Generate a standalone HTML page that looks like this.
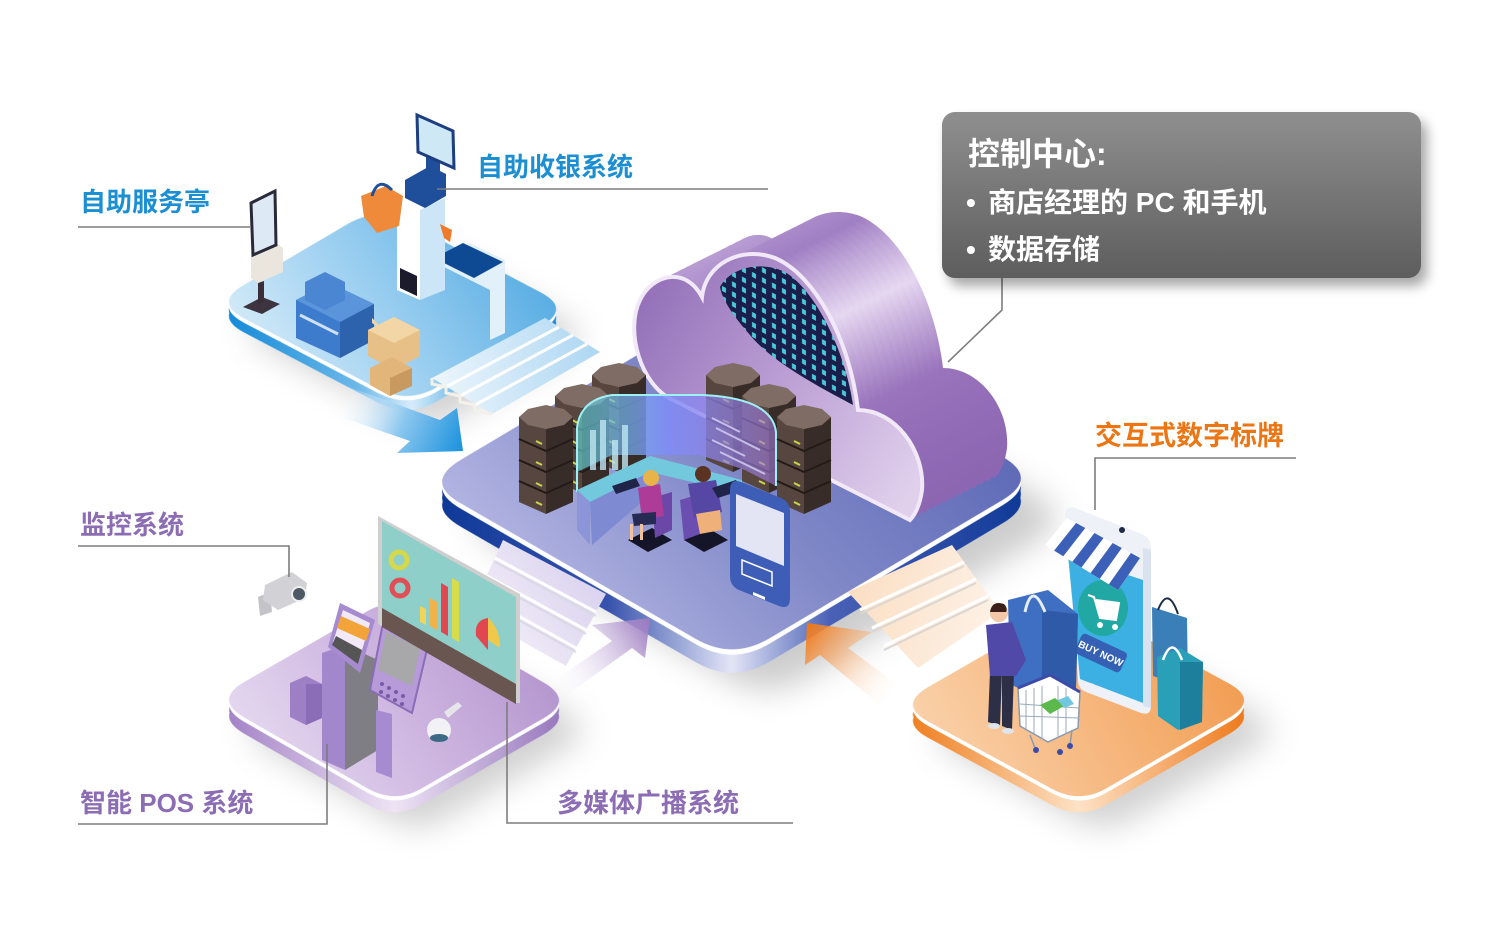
<!DOCTYPE html>
<html><head><meta charset="utf-8">
<style>
html,body{margin:0;padding:0;background:#fff;}
svg{display:block;}
text{font-family:"Liberation Sans","Noto Sans CJK SC",sans-serif;font-weight:bold;}
</style></head>
<body>
<svg width="1500" height="932" viewBox="0 0 1500 932" xmlns="http://www.w3.org/2000/svg">
<defs>
  <filter id="blur" x="-30%" y="-30%" width="160%" height="160%"><feGaussianBlur stdDeviation="16"/></filter>
  <filter id="boxsh" x="-10%" y="-20%" width="130%" height="160%"><feGaussianBlur stdDeviation="6"/></filter>

  <path id="pB" d="M256 318 L378 382 Q407 397 434 381 L531 324 Q558 308 529 293 L407 229 Q378 214 351 230 L254 287 Q227 303 256 318 Z"/>
  <path id="pC" d="M476 502 L698 630 Q733 650 768 629 L987 499 Q1022 478 987 458 L765 330 Q730 310 695 331 L476 461 Q441 482 476 502 Z"/>
  <path id="pP" d="M255 716 L368 781 Q395 797 421 781 L534 716 Q560 700 533 684 L420 619 Q393 603 367 619 L254 684 Q228 700 255 716 Z"/>
  <path id="pO" d="M939 720 L1053 782 Q1080 797 1106 781 L1219 716 Q1245 700 1218 685 L1104 623 Q1077 608 1051 624 L938 689 Q912 705 939 720 Z"/>
  <path id="cloud" d="M673 400 C640 385 625 330 640 300 C652 275 685 265 702 297 C705 265 740 245 775 258 C815 275 850 340 858 410 C895 410 925 450 922 490 C920 505 915 515 910 520 Z"/>

  <linearGradient id="gBT" gradientUnits="userSpaceOnUse" x1="290" y1="390" x2="520" y2="230">
    <stop offset="0" stop-color="#d4ebf9"/><stop offset="0.5" stop-color="#93cbef"/><stop offset="1" stop-color="#4fa8e2"/></linearGradient>
  <linearGradient id="gBS" gradientUnits="userSpaceOnUse" x1="227" y1="0" x2="560" y2="0">
    <stop offset="0" stop-color="#0c86d6"/><stop offset="0.4" stop-color="#6db8ea"/><stop offset="0.55" stop-color="#d6ecfa"/><stop offset="0.75" stop-color="#3fa1e2"/><stop offset="1" stop-color="#0f84d4"/></linearGradient>

  <linearGradient id="gCT" gradientUnits="userSpaceOnUse" x1="600" y1="650" x2="900" y2="360">
    <stop offset="0" stop-color="#b4b6e3"/><stop offset="0.5" stop-color="#8189c8"/><stop offset="1" stop-color="#5f6bb8"/></linearGradient>
  <linearGradient id="gCS" gradientUnits="userSpaceOnUse" x1="441" y1="0" x2="1022" y2="0">
    <stop offset="0" stop-color="#0b3796"/><stop offset="0.3" stop-color="#3853ad"/><stop offset="0.5" stop-color="#e4e6f7"/><stop offset="0.66" stop-color="#4a61b6"/><stop offset="1" stop-color="#0b3796"/></linearGradient>

  <linearGradient id="gPT" gradientUnits="userSpaceOnUse" x1="280" y1="780" x2="520" y2="620">
    <stop offset="0" stop-color="#e6d9f0"/><stop offset="0.5" stop-color="#cdb5e0"/><stop offset="1" stop-color="#b293cd"/></linearGradient>
  <linearGradient id="gPS" gradientUnits="userSpaceOnUse" x1="228" y1="0" x2="560" y2="0">
    <stop offset="0" stop-color="#9e7bc2"/><stop offset="0.5" stop-color="#eee4f5"/><stop offset="1" stop-color="#9170b9"/></linearGradient>

  <linearGradient id="gOT" gradientUnits="userSpaceOnUse" x1="960" y1="790" x2="1220" y2="650">
    <stop offset="0" stop-color="#fad2ab"/><stop offset="0.5" stop-color="#f6b77e"/><stop offset="1" stop-color="#f29c50"/></linearGradient>
  <linearGradient id="gOS" gradientUnits="userSpaceOnUse" x1="912" y1="0" x2="1245" y2="0">
    <stop offset="0" stop-color="#ee7814"/><stop offset="0.5" stop-color="#fde2c6"/><stop offset="1" stop-color="#ed720e"/></linearGradient>

  <linearGradient id="gBox" x1="0" y1="0" x2="0" y2="1">
    <stop offset="0" stop-color="#8f8f8f"/><stop offset="1" stop-color="#5d5d5d"/></linearGradient>

  <linearGradient id="gCloud" gradientUnits="userSpaceOnUse" x1="650" y1="210" x2="1000" y2="470">
    <stop offset="0" stop-color="#c7afdd"/><stop offset="0.3" stop-color="#a07fc3"/><stop offset="0.48" stop-color="#e6d7f1"/><stop offset="0.65" stop-color="#9a75bd"/><stop offset="1" stop-color="#8760ad"/></linearGradient>
  <linearGradient id="gCloudF" gradientUnits="userSpaceOnUse" x1="640" y1="300" x2="920" y2="480">
    <stop offset="0" stop-color="#9471b9"/><stop offset="0.45" stop-color="#b89bd2"/><stop offset="1" stop-color="#e0d0ec"/></linearGradient>
  <pattern id="dots" width="10" height="10" patternUnits="userSpaceOnUse" patternTransform="skewY(28)">
    <rect width="10" height="10" fill="#1a1e4b"/>
    <rect x="2" y="2" width="4" height="5" fill="#48cbd8"/>
  </pattern>

  <linearGradient id="gStB" gradientUnits="userSpaceOnUse" x1="430" y1="380" x2="610" y2="360">
    <stop offset="0" stop-color="#eef6fc"/><stop offset="1" stop-color="#a9d5f2"/></linearGradient>
  <linearGradient id="gStP" gradientUnits="userSpaceOnUse" x1="480" y1="640" x2="600" y2="560">
    <stop offset="0" stop-color="#f4f0f9"/><stop offset="1" stop-color="#d8d0ee"/></linearGradient>
  <linearGradient id="gStO" gradientUnits="userSpaceOnUse" x1="850" y1="600" x2="990" y2="640">
    <stop offset="0" stop-color="#fbdfc4"/><stop offset="1" stop-color="#fdf1e6"/></linearGradient>

  <linearGradient id="aB" gradientUnits="userSpaceOnUse" x1="340" y1="395" x2="465" y2="450">
    <stop offset="0" stop-color="#ffffff" stop-opacity="0"/><stop offset="0.5" stop-color="#8cc7ef"/><stop offset="1" stop-color="#1690dc"/></linearGradient>
  <linearGradient id="aP" gradientUnits="userSpaceOnUse" x1="545" y1="680" x2="650" y2="618">
    <stop offset="0" stop-color="#ffffff" stop-opacity="0"/><stop offset="1" stop-color="#9a78c0"/></linearGradient>
  <linearGradient id="aO" gradientUnits="userSpaceOnUse" x1="900" y1="695" x2="806" y2="625">
    <stop offset="0" stop-color="#ffffff" stop-opacity="0"/><stop offset="1" stop-color="#ef7410"/></linearGradient>

  <linearGradient id="gGlass" x1="0" y1="0" x2="1" y2="0">
    <stop offset="0" stop-color="#63d6d6" stop-opacity="0.75"/><stop offset="0.45" stop-color="#7f8cf8"/><stop offset="1" stop-color="#a27ad8" stop-opacity="0.7"/></linearGradient>

  <g id="srv">
    <polygon points="0,12 27,24 27,109 0,97" fill="#56463f"/>
    <polygon points="27,24 54,12 54,97 27,109" fill="#382c28"/>
    <polyline points="0,34 27,46 54,34" fill="none" stroke="#241b18" stroke-width="2"/>
    <polyline points="0,55 27,67 54,55" fill="none" stroke="#241b18" stroke-width="2"/>
    <polyline points="0,76 27,88 54,76" fill="none" stroke="#241b18" stroke-width="2"/>
    <line x1="17" y1="36" x2="23" y2="39" stroke="#cbd648" stroke-width="2"/>
    <line x1="17" y1="57" x2="23" y2="60" stroke="#cbd648" stroke-width="2"/>
    <line x1="17" y1="78" x2="23" y2="81" stroke="#cbd648" stroke-width="2"/>
    <line x1="17" y1="97" x2="23" y2="100" stroke="#cbd648" stroke-width="2"/>
    <polygon points="0,12 9,4 27,0 45,4 54,12 45,20 27,24 9,20" fill="#7f6c64"/>
  </g>
</defs>

<!-- shadows -->
<g filter="url(#blur)" opacity="0.45">
  <g transform="translate(22,28) translate(392.5,305.5) scale(1.08) translate(-392.5,-305.5)"><use href="#pB" fill="#9a9a9a"/></g>
  <g transform="translate(35,40) translate(731.5,480) scale(1.06) translate(-731.5,-480)"><use href="#pC" fill="#8e8e8e"/></g>
  <g transform="translate(22,30) translate(394,700) scale(1.08) translate(-394,-700)"><use href="#pP" fill="#9a9a9a"/></g>
  <g transform="translate(25,30) translate(1078.5,702.5) scale(1.08) translate(-1078.5,-702.5)"><use href="#pO" fill="#9a9a9a"/></g>
</g>

<!-- blue platform -->
<g transform="translate(392.5,305.5) scale(1.08) translate(-392.5,-305.5)">
<use href="#pB" transform="translate(0,13)" fill="url(#gBS)"/>
<use href="#pB" transform="translate(0,8)" fill="url(#gBS)"/>
<use href="#pB" transform="translate(0,4)" fill="#ffffff"/>
<use href="#pB" fill="url(#gBT)"/>
</g>

<!-- central platform -->
<g transform="translate(731.5,480) scale(1.06) translate(-731.5,-480)">
<use href="#pC" transform="translate(0,22)" fill="url(#gCS)"/>
<use href="#pC" transform="translate(0,15)" fill="url(#gCS)"/>
<use href="#pC" transform="translate(0,9)" fill="url(#gCS)"/>
<use href="#pC" transform="translate(0,5)" fill="#ffffff"/>
<use href="#pC" fill="url(#gCT)"/>
</g>

<!-- purple platform -->
<g transform="translate(394,700) scale(1.08) translate(-394,-700)">
<use href="#pP" transform="translate(0,15)" fill="url(#gPS)"/>
<use href="#pP" transform="translate(0,9)" fill="url(#gPS)"/>
<use href="#pP" transform="translate(0,4)" fill="#ffffff"/>
<use href="#pP" fill="url(#gPT)"/>
</g>

<!-- orange platform -->
<g transform="translate(1078.5,702.5) scale(1.08) translate(-1078.5,-702.5)">
<use href="#pO" transform="translate(0,15)" fill="url(#gOS)"/>
<use href="#pO" transform="translate(0,9)" fill="url(#gOS)"/>
<use href="#pO" transform="translate(0,4)" fill="#ffffff"/>
<use href="#pO" fill="url(#gOT)"/>
</g>

<!-- stairs blue -->
<polygon points="432,378 545,318 600,352 492,414" fill="url(#gStB)"/>
<g stroke="#ffffff" stroke-width="3">
  <line x1="446" y1="387" x2="559" y2="327"/>
  <line x1="460" y1="396" x2="573" y2="335"/>
  <line x1="475" y1="405" x2="587" y2="344"/>
</g>
<polyline points="432,378 432,384 446,387 446,393 460,396 460,402 475,405 475,411 492,414" fill="none" stroke="#f3f1ea" stroke-width="3"/>

<!-- stairs purple -->
<polygon points="503,540 606,594 566,666 470,612" fill="url(#gStP)"/>
<g stroke="#ffffff" stroke-width="3">
  <line x1="495" y1="558" x2="596" y2="612"/>
  <line x1="487" y1="576" x2="586" y2="630"/>
  <line x1="479" y1="594" x2="576" y2="648"/>
</g>
<g stroke="#d9d9e4" stroke-width="2">
  <line x1="495" y1="562" x2="596" y2="616"/>
  <line x1="487" y1="580" x2="586" y2="634"/>
  <line x1="479" y1="598" x2="576" y2="652"/>
</g>

<!-- stairs orange -->
<polygon points="848,592 952,545 1000,612 918,668" fill="url(#gStO)"/>
<g stroke="#ffffff" stroke-width="3">
  <line x1="860" y1="610" x2="964" y2="562"/>
  <line x1="872" y1="628" x2="976" y2="579"/>
  <line x1="884" y1="646" x2="988" y2="596"/>
</g>
<g stroke="#dcd6d0" stroke-width="2">
  <line x1="860" y1="614" x2="964" y2="566"/>
  <line x1="872" y1="632" x2="976" y2="583"/>
  <line x1="884" y1="650" x2="988" y2="600"/>
</g>

<!-- arrows -->
<polygon points="330,380 440,420 457,408 463,451 397,453 410,441 300,403" fill="url(#aB)"/>
<polygon points="540,690 612,641 592,625 650,618 645,658 632,648 560,700" fill="url(#aP)"/>
<polygon points="905,690 848,648 872,632 807,623 805,665 820,655 880,705" fill="url(#aO)"/>

<!-- cloud extrusion -->
<g fill="url(#gCloud)">
  <use href="#cloud" transform="translate(85,-42)"/>
  <use href="#cloud" transform="translate(78,-38.5)"/>
  <use href="#cloud" transform="translate(71,-35)"/>
  <use href="#cloud" transform="translate(64,-31.5)"/>
  <use href="#cloud" transform="translate(57,-28)"/>
  <use href="#cloud" transform="translate(50,-24.5)"/>
  <use href="#cloud" transform="translate(43,-21)"/>
  <use href="#cloud" transform="translate(36,-17.5)"/>
  <use href="#cloud" transform="translate(29,-14)"/>
  <use href="#cloud" transform="translate(22,-10.5)"/>
  <use href="#cloud" transform="translate(15,-7)"/>
  <use href="#cloud" transform="translate(8,-3.5)"/>
  <use href="#cloud" transform="translate(3,-1.5)"/>
</g>
<use href="#cloud" fill="url(#gCloudF)"/>
<path d="M720 287 C730 268 760 260 785 272 C815 290 845 350 853 405 C815 385 770 360 750 335 C735 318 722 300 720 287 Z" fill="url(#dots)"/>
<use href="#cloud" fill="none" stroke="#f1e8f8" stroke-width="4"/>

<!-- servers left -->
<use href="#srv" x="592" y="363"/>
<use href="#srv" x="555" y="384"/>
<!-- servers right -->
<use href="#srv" x="706" y="363"/>
<use href="#srv" x="742" y="384"/>

<!-- glass booth -->
<path d="M577 492 L577 428 Q580 400 612 395 L702 395 Q772 398 776 432 L776 486 L745 470 L700 455 L612 455 L577 472 Z" fill="url(#gGlass)" opacity="0.85"/>
<path d="M577 492 L577 428 Q580 400 612 395 L702 395 Q772 398 776 432 L776 486" fill="none" stroke="#9ef0f4" stroke-width="2"/>
<g fill="#bfe6f3" opacity="0.8">
  <rect x="590" y="430" width="6" height="40"/><rect x="600" y="420" width="6" height="50"/><rect x="612" y="440" width="6" height="30"/><rect x="622" y="425" width="6" height="45"/>
</g>
<g stroke="#d8d2f6" stroke-width="2" opacity="0.8">
  <line x1="712" y1="418" x2="740" y2="432"/><line x1="716" y1="428" x2="760" y2="450"/><line x1="712" y1="440" x2="745" y2="456"/><line x1="720" y1="452" x2="765" y2="474"/>
</g>

<use href="#srv" x="519" y="405"/>
<use href="#srv" x="777" y="405"/>

<!-- desk -->
<polygon points="577,490 650,456 742,480 742,494 650,472 590,502" fill="#72c8dc"/>
<polygon points="577,490 590,502 590,545 577,530" fill="#8c95d8"/>
<polygon points="590,502 650,472 650,495 592,545" fill="#7e8ad2"/>
<!-- mats -->
<polygon points="628,540 652,528 672,540 648,552" fill="#15152a"/>
<polygon points="684,540 708,528 728,540 704,552" fill="#15152a"/>
<!-- woman -->
<polygon points="652,498 672,492 672,530 655,538" fill="#6b47a8"/>
<polygon points="638,488 660,484 664,516 642,520" fill="#ad3c99"/>
<polygon points="632,514 656,512 656,524 634,526" fill="#272a52"/>
<rect x="630" y="524" width="3" height="16" fill="#f2c29a"/><rect x="640" y="524" width="3" height="16" fill="#f2c29a"/>
<circle cx="651" cy="478" r="8" fill="#e8b348"/>
<polygon points="612,486 636,478 640,486 616,494" fill="#1f2448"/>
<!-- man -->
<polygon points="680,500 700,494 700,534 684,540" fill="#6a4fb0"/>
<polygon points="688,484 716,480 722,512 694,518" fill="#5747a4"/>
<polygon points="696,514 720,510 722,530 700,534" fill="#f0b07a"/>
<circle cx="703" cy="474" r="8" fill="#5a3322"/>
<polygon points="712,488 736,480 742,490 718,498" fill="#1f2448"/>

<!-- phone center -->
<path d="M730 490 Q730 478 741 482 L781 498 Q790 502 790 512 L790 598 Q790 610 779 606 L739 590 Q730 586 730 576 Z" fill="#3d5db6"/>
<polygon points="736,494 784,513 784,566 736,546" fill="#e3e4f4"/>
<polygon points="742,560 772,572 772,586 742,574" fill="#3d5db6" stroke="#ffffff" stroke-width="1.5"/>
<polygon points="753,592 765,597 765,600 753,595" fill="#ffffff"/>

<!-- ===== blue platform items ===== -->
<!-- kiosk -->
<polygon points="243,307 262,297 280,304 262,314" fill="#3d3440"/>
<polygon points="258,283 264,281 264,302 258,304" fill="#3a2f38"/>
<polygon points="251,253 276,243 283,248 283,272 258,283 251,278" fill="#ebe6dd"/>
<polygon points="251,203 275,191 276,245 253,255" fill="#dde9f5" stroke="#2a2a38" stroke-width="3"/>
<!-- boxes blue -->
<polygon points="296,300 330,283 374,304 374,340 340,358 296,338" fill="#3d7ccc"/>
<polygon points="340,322 374,304 374,340 340,358" fill="#2d62ad"/>
<polygon points="296,300 330,283 374,304 340,322" fill="#5a94da"/>
<polygon points="305,282 325,272 345,282 345,300 325,310 305,300" fill="#4a86d2"/>
<line x1="300" y1="315" x2="338" y2="334" stroke="#cfe2f5" stroke-width="3"/>
<!-- cardboard boxes -->
<polygon points="368,330 394,317 420,330 420,356 394,370 368,356" fill="#e7c088"/>
<polygon points="368,330 394,317 420,330 394,343" fill="#f3d6a6"/>
<polygon points="372,323 386,332 372,318" fill="#f3d6a6"/>
<polygon points="370,368 392,357 412,368 412,386 390,396 370,385" fill="#e2b57a"/>
<polygon points="390,378 412,368 412,386 390,396" fill="#c99a5f"/>
<!-- cashier -->
<polygon points="440,258 470,243 505,260 505,333 490,340 490,290 440,265" fill="#e2f0fa"/>
<polygon points="434,258 463,243 503,262 474,278" fill="#0e4a93"/>
<polygon points="397,200 420,210 420,300 397,290" fill="#ffffff"/>
<polygon points="420,210 445,198 445,290 420,300" fill="#cde6f7"/>
<polygon points="400,268 417,276 417,296 400,288" fill="#1b1b2b"/>
<polygon points="405,180 430,166 446,174 446,196 425,208 405,198" fill="#1f4e9a"/>
<polygon points="426,150 440,156 440,176 426,170" fill="#1f4e9a"/>
<polygon points="417,115 453,131 454,168 418,152" fill="#cfe8f6" stroke="#1d3e7f" stroke-width="3"/>
<!-- basket -->
<polygon points="361,196 386,186 403,196 399,226 377,233 364,217" fill="#ef8a3a"/>
<path d="M372 196 Q378 176 392 190" fill="none" stroke="#1f4e9a" stroke-width="3"/>
<polygon points="440,224 452,230 450,242 444,238" fill="#ef7a2a"/>

<!-- ===== purple platform items ===== -->
<!-- cctv -->
<polygon points="258,597 270,592 272,612 260,616" fill="#c4c4c8"/>
<polygon points="265,585 292,572 307,583 305,598 278,610 263,600" fill="#d2d2d6"/>
<circle cx="299" cy="594" r="7" fill="#4d5a66" stroke="#eeeeee" stroke-width="2"/>
<!-- pc tower -->
<polygon points="290,683 306,676 322,684 322,718 306,725 290,717" fill="#9d7fc6"/>
<polygon points="306,684 322,684 322,718 306,725" fill="#8a6cb7"/>
<!-- ATM -->
<polygon points="322,653 345,645 362,652 362,758 345,770 322,760" fill="#a287cc"/>
<polygon points="345,645 378,660 378,750 345,770" fill="#7e7e84"/>
<polygon points="328,647 340,603 375,620 360,673" fill="#a68bd0"/>
<polygon points="333,642 343,610 370,623 358,664" fill="#f1e9f6"/>
<polygon points="337,628 341,616 370,629 366,641" fill="#f2a43a"/>
<polygon points="332,645 336,636 362,650 358,664" fill="#555"/>
<!-- POS tablet -->
<polygon points="376,710 392,714 392,778 376,772" fill="#a68bd0"/>
<polygon points="370,690 383,623 428,645 412,713" fill="#b69bd8" stroke="#8a6cb7" stroke-width="2"/>
<polygon points="378,670 386,632 420,648 412,686" fill="#a8a8ab"/>
<g fill="#7a5aa8"><circle cx="382" cy="684" r="2"/><circle cx="389" cy="688" r="2"/><circle cx="396" cy="692" r="2"/><circle cx="403" cy="696" r="2"/><circle cx="381" cy="692" r="2"/><circle cx="388" cy="696" r="2"/><circle cx="395" cy="700" r="2"/><circle cx="402" cy="704" r="2"/></g>
<!-- billboard -->
<polygon points="378,516 520,594 520,703 515,703 382,626 378,624" fill="#cfcfcf"/>
<polygon points="382,521 516,597 516,684 382,608" fill="#8fcfca"/>
<polygon points="382,608 516,684 516,704 382,627" fill="#6a5650"/>
<circle cx="399" cy="560" r="8" fill="none" stroke="#d4d84a" stroke-width="5"/>
<circle cx="400" cy="588" r="8" fill="none" stroke="#e04f55" stroke-width="5"/>
<polygon points="420,606 426,609 426,625 420,622" fill="#f0d55a"/>
<polygon points="430,598 437,602 437,630 430,626" fill="#f2b24a"/>
<polygon points="441,583 448,587 448,636 441,632" fill="#e0474f"/>
<polygon points="452,578 459,582 459,642 452,638" fill="#d8dc4a"/>
<path d="M488 618 L488 640 L500 648 Q500 628 488 618 Z" fill="#f0c84a"/>
<path d="M488 618 Q474 620 476 636 L488 650 L488 640 Z" fill="#e0474f"/>
<!-- dome camera -->
<polygon points="444,712 458,702 462,706 448,718" fill="#e6e6ea"/>
<circle cx="439" cy="730" r="12" fill="#f2f2f4"/>
<ellipse cx="439" cy="738" rx="9" ry="4" fill="#3c6a86"/>

<!-- ===== orange platform items ===== -->
<!-- back teal bag -->
<polygon points="1152,607 1187,618 1188,687 1153,676" fill="#3b7fb8"/>
<path d="M1158 610 Q1168 585 1178 614" fill="none" stroke="#1e2c45" stroke-width="2"/>
<!-- phone -->
<path d="M1065 515 Q1065 505 1075 508 L1142 534 Q1151 538 1151 548 L1151 706 Q1151 716 1141 713 L1086 692 Q1078 689 1078 679 Z" fill="#eef2f8"/>
<polygon points="1068,555 1143,580 1143,703 1080,679" fill="#3cb0e2"/>
<polygon points="1143,548 1151,550 1151,708 1143,706" fill="#d9e2ee"/>
<circle cx="1122" cy="530" r="3" fill="#1d2c45"/>
<ellipse cx="1103" cy="608" rx="25" ry="28" fill="#22a8a4"/>
<path d="M1088 595 L1094 597 L1100 618 L1116 620 L1119 603 L1096 600" fill="#ffffff" stroke="#ffffff" stroke-width="2"/>
<circle cx="1100" cy="625" r="3" fill="#fff"/><circle cx="1115" cy="627" r="3" fill="#fff"/>
<g transform="translate(1101,653) rotate(25)">
  <rect x="-25" y="-11" width="50" height="22" rx="4" fill="#3560b4"/>
  <text x="0" y="4" font-size="10" fill="#ffffff" text-anchor="middle" style="font-weight:bold">BUY NOW</text>
</g>
<!-- awning -->
<polygon points="1045,545 1067,518 1140,558 1118,590" fill="#ffffff"/>
<polygon points="1054.1,550.6 1076.1,523 1085.3,528 1063.3,556.3" fill="#3c5fb8"/>
<polygon points="1072.3,561.9 1094.4,533 1103.5,538 1081.5,567.5" fill="#3c5fb8"/>
<polygon points="1090.5,573.1 1112.6,543 1121.8,548 1099.8,578.8" fill="#3c5fb8"/>
<polygon points="1108.8,584.4 1130.9,553 1140,558 1118,590" fill="#3c5fb8"/>
<!-- big blue bag -->
<polygon points="1008,600 1048,590 1078,614 1076,688 1042,700 1010,684" fill="#3f6fc2"/>
<polygon points="1042,610 1078,614 1076,688 1042,700" fill="#2f5aa8"/>
<path d="M1025 612 Q1032 580 1045 612" fill="none" stroke="#e6eef8" stroke-width="3"/>
<!-- front teal bag -->
<polygon points="1157,657 1180,648 1203,662 1202,722 1178,730 1158,716" fill="#2a9fb8"/>
<polygon points="1180,662 1203,662 1202,722 1180,730" fill="#1d7f9c"/>
<path d="M1163 660 Q1172 635 1182 660" fill="none" stroke="#ffffff" stroke-width="2.5"/>
<!-- person -->
<polygon points="990,672 1002,672 1000,726 988,722" fill="#2c2f45"/>
<polygon points="1002,670 1014,672 1012,730 1002,726" fill="#2c2f45"/>
<ellipse cx="994" cy="726" rx="6" ry="3" fill="#dfe3ea"/><ellipse cx="1008" cy="731" rx="6" ry="3" fill="#dfe3ea"/>
<polygon points="986,625 1012,622 1026,660 1016,676 990,676" fill="#5049a8"/>
<circle cx="999" cy="613" r="9" fill="#f2c8a8"/>
<path d="M990 612 Q992 600 1004 604 Q1008 608 1006 612 Z" fill="#3a2018"/>
<!-- cart -->
<polygon points="1018,688 1050,675 1080,692 1078,728 1048,742 1020,726" fill="#ffffff" stroke="#8a9aae" stroke-width="1.5"/>
<g stroke="#9aaabc" stroke-width="1">
  <line x1="1026" y1="690" x2="1026" y2="730"/><line x1="1034" y1="688" x2="1034" y2="734"/><line x1="1042" y1="686" x2="1042" y2="738"/><line x1="1058" y1="686" x2="1058" y2="738"/><line x1="1066" y1="688" x2="1066" y2="734"/>
  <line x1="1020" y1="704" x2="1079" y2="708"/><line x1="1020" y1="716" x2="1079" y2="718"/>
</g>
<polygon points="1040,705 1055,698 1064,706 1050,714" fill="#5bb84a"/>
<polygon points="1058,700 1068,696 1074,704 1064,708" fill="#6fc7e0"/>
<polyline points="1018,688 1050,675 1080,692" fill="none" stroke="#3c4aa8" stroke-width="3"/>
<line x1="1030" y1="735" x2="1035" y2="748" stroke="#8a9aae" stroke-width="1.5"/>
<line x1="1072" y1="730" x2="1070" y2="745" stroke="#8a9aae" stroke-width="1.5"/>
<circle cx="1036" cy="750" r="3" fill="#3c4aa8"/><circle cx="1060" cy="752" r="3" fill="#3c4aa8"/><circle cx="1070" cy="746" r="3" fill="#3c4aa8"/>

<!-- ===== connectors ===== -->
<g fill="none" stroke="#7d7d7d" stroke-width="1.6">
  <polyline points="78,227 250,227"/>
  <polyline points="437,189 768,189"/>
  <polyline points="78,546 289,546 289,577"/>
  <polyline points="78,824 327,824 327,744"/>
  <polyline points="507,702 507,823 793,823"/>
  <polyline points="1095,510 1095,458 1296,458"/>
  <polyline points="1002,278 1002,310 948,362"/>
</g>

<!-- ===== labels ===== -->
<text x="80" y="211" font-size="26" fill="#1b8fd2">自助服务亭</text>
<text x="477" y="176" font-size="26" fill="#1b8fd2">自助收银系统</text>
<text x="80" y="534" font-size="26" fill="#8c6db4">监控系统</text>
<text x="80" y="812" font-size="26" fill="#8c6db4">智能 POS 系统</text>
<text x="557" y="812" font-size="26" fill="#8c6db4">多媒体广播系统</text>
<text x="1095" y="445" font-size="27" fill="#ec7514">交互式数字标牌</text>

<!-- ===== control center box ===== -->
<rect x="948" y="120" width="479" height="166" rx="13" fill="#000" opacity="0.35" filter="url(#boxsh)"/>
<rect x="942" y="112" width="479" height="166" rx="13" fill="url(#gBox)"/>
<text x="968" y="165" font-size="32" fill="#ffffff">控制中心:</text>
<text x="966" y="212" font-size="28" fill="#ffffff">•</text>
<text x="988" y="212" font-size="28" fill="#ffffff">商店经理的 PC 和手机</text>
<text x="966" y="259" font-size="28" fill="#ffffff">•</text>
<text x="988" y="259" font-size="28" fill="#ffffff">数据存储</text>
</svg>
</body></html>
